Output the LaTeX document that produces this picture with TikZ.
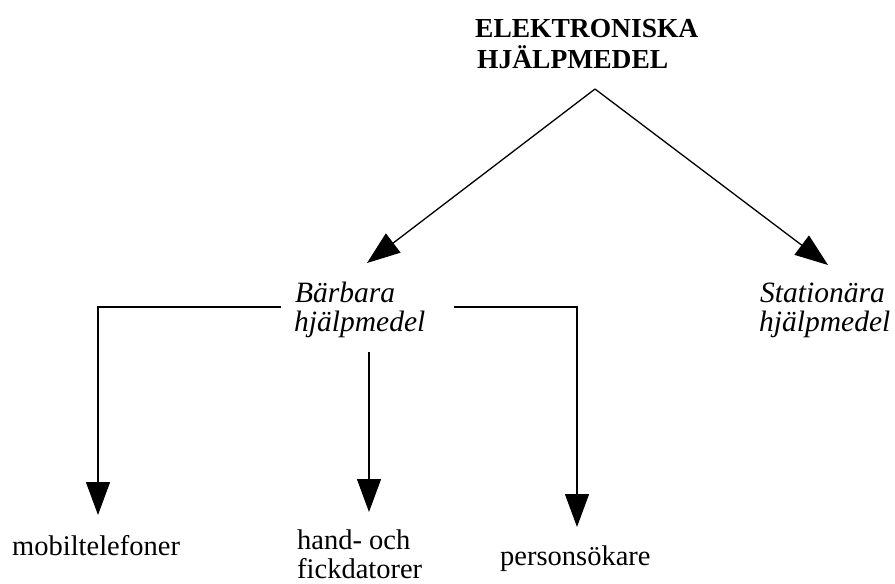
\documentclass[tikz,border=0pt]{standalone}
\usepackage{fontspec}
\setmainfont{Liberation Serif}
\usetikzlibrary{arrows.meta}
\begin{document}
\begin{tikzpicture}[x=1pt,y=-1pt,
  lbl/.style={anchor=base west,inner sep=0pt,font=\fontsize{28.5}{34}\selectfont},
  ital/.style={anchor=base west,inner sep=0pt,font=\fontsize{29.5}{34}\selectfont\itshape},
  bld/.style={anchor=base west,inner sep=0pt,font=\fontsize{27.5}{32}\selectfont\bfseries},
  conn/.style={line width=1.3pt},
  arr/.style={conn,-{Triangle[length=33pt,width=24pt]}}]
\useasboundingbox (0,0) rectangle (895,584);
% texts
\node[bld] (t1) at (475,37) {ELEKTRONISKA};
\node[bld] (t2) at (477,68) {HJÄLPMEDEL};
\node[ital] (b1) at (295,302) {Bärbara};
\node[ital] (b2) at (294,331) {hjälpmedel};
\node[ital] (s1) at (760,302) {Stationära};
\node[ital] (s2) at (759,331) {hjälpmedel};
\node[lbl] (m) at (12,555) {mobiltelefoner};
\node[lbl] (h1) at (297,549) {hand- och};
\node[lbl] (h2) at (297,578) {fickdatorer};
\node[lbl] (p) at (500,565) {personsökare};
% coordinates
\coordinate (apex) at (595,89);
\coordinate (bt) at (367,263);
\coordinate (st) at (828,265);
\coordinate (l0) at (281,307);
\coordinate (l1) at (98,307);
\coordinate (lt) at (98,515);
\coordinate (c0) at (369,352);
\coordinate (ct) at (369,512);
\coordinate (r0) at (454,307);
\coordinate (r1) at (577,307);
\coordinate (rt) at (577,527);
% connectors
\draw[arr] (apex) -- (bt);
\draw[arr] (apex) -- (st);
\draw[arr] (l0) -- (l1) -- (lt);
\draw[arr] (c0) -- (ct);
\draw[arr] (r0) -- (r1) -- (rt);
\end{tikzpicture}
\end{document}
